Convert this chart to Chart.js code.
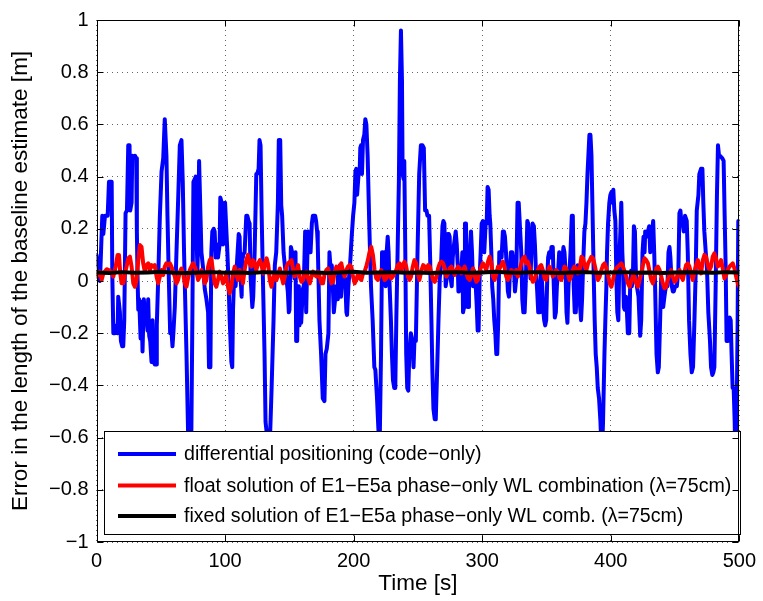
<!DOCTYPE html>
<html>
<head>
<meta charset="utf-8">
<script src="https://cdn.jsdelivr.net/npm/chart.js@4/dist/chart.umd.min.js"></script>
<style>
html,body{margin:0;padding:0;background:#fff;}
#wrap{width:763px;height:601px;}
</style>
</head>
<body>
<div id="wrap"><canvas id="c" width="763" height="601"></canvas></div>
<script>
// ---- data: [time s, error m] ----
const seriesNames = [
  'differential positioning (code\u2212only)',
  'float solution of E1\u2212E5a phase\u2212only WL combination (\u03bb=75cm)',
  'fixed solution of E1\u2212E5a phase\u2212only WL comb. (\u03bb=75cm)'
];
const xTickValues = [0, 100, 200, 300, 400, 500];
const xTickLabels = ['0', '100', '200', '300', '400', '500'];
const yTickValues = [-1, -0.8, -0.6, -0.4, -0.2, 0, 0.2, 0.4, 0.6, 0.8, 1];
const yTickLabels = ['\u22121', '\u22120.8', '\u22120.6', '\u22120.4', '\u22120.2', '0', '0.2', '0.4', '0.6', '0.8', '1'];

const codeOnly = [
[0,0.10],[1.5,0.05],[2.7,0.0],[3.5,0.11],[4.5,0.25],[5.3,0.18],[6.6,0.25],[8.7,0.25],[9.7,0.38],[11.8,0.38],
[12.3,0.02],[13.1,-0.20],[14.4,-0.20],[15.6,-0.17],[16.4,-0.20],[16.9,-0.06],[18.2,-0.12],[19,-0.23],[20,-0.25],[20.8,-0.25],
[21.6,-0.15],[22.6,0.26],[23.7,0.27],[24.7,0.52],[25.7,0.52],[26.2,0.27],[27.3,0.30],[27.8,0.48],[28.8,0.47],[29.9,0.48],
[30.9,0.47],[31.4,0.19],[31.9,0.02],[32.5,-0.11],[33.2,-0.07],[34.3,-0.22],[35,-0.08],[35.8,-0.27],[36.8,-0.07],[37.6,-0.12],
[38.4,-0.11],[39.7,-0.19],[40.2,-0.07],[41,-0.21],[41.8,-0.23],[42.8,-0.31],[43.6,-0.15],[44.4,-0.31],[45.4,-0.32],[46.4,-0.32],
[46.9,-0.17],[48,0.01],[49.3,0.25],[50.6,0.42],[51.9,0.47],[53.1,0.62],[54.4,0.48],[55.2,0.25],[56.2,0.02],[57.3,-0.20],
[58.3,-0.19],[59.1,-0.25],[59.9,-0.19],[60.9,-0.10],[62.2,0.11],[63.5,0.31],[64.8,0.52],[66.1,0.54],[67.1,0.38],[68.1,0.11],
[70,-0.28],[71.2,-0.57],[72.5,-0.75],[73.8,-0.57],[74.6,-0.12],[75.4,0.38],[76.4,0.39],[77.2,0.40],[78,0.14],[78.5,0.04],
[79,0.14],[79.8,0.46],
[80.3,0.46],[81.6,0.11],[82.9,0.05],[84.2,-0.03],[85.5,-0.07],[86.8,-0.12],[87.5,-0.33],[88.6,-0.33],[89.3,0.11],[90.1,0.19],
[91.2,0.20],[91.9,0.19],[92.7,0.09],[93.7,0.14],[94.5,0.09],[95.8,0.14],[96.3,0.32],[97.4,0.30],[98.4,0.14],[99.2,0.18],
[100,0.30],[100.7,0.30],[101.8,0.11],[102.8,-0.02],[103.6,-0.15],[104.9,-0.31],[105.6,-0.33],[106.2,-0.11],[107.2,0.04],[108.2,-0.02],
[109.5,0.09],[110.6,0.18],[111.3,0.17],[112.1,0.01],[112.9,-0.06],[113.4,0.09],[113.9,0.10],[115.2,0.11],[116.5,0.25],[117.3,0.25],
[118.3,0.23],[119.1,0.22],[119.9,0.01],[121.2,-0.10],[121.9,-0.06],[123,0.11],[124.3,0.41],[125,0.41],[126.1,0.43],[126.8,0.54],
[127.6,0.52],[128.4,0.27],[129.4,0.02],[130.7,-0.28],[131.5,-0.54],[132.8,-0.60],[133.8,-0.63],[135.1,-0.58],[136.2,-0.41],[137.7,-0.15],
[138.7,0.06],[139.8,0.11],[141.1,0.30],[141.8,0.54],[142.9,0.54],[143.7,0.29],[144.4,0.25],[145.5,0.11],[146.5,0.06],[147.5,0.02],
[148.8,-0.04],[149.6,-0.12],[150.1,-0.11],[151.2,0.13],[152.2,0.11],[153.2,0.10],[154,0.01],[154.8,0.11],[155.3,-0.23],[156.1,-0.23],
[156.8,-0.02],[157.4,-0.04],[157.9,-0.17],[158.7,-0.10],[159.2,-0.16],[160.5,-0.03],[161.2,-0.02],[162.3,0.19],
[163.1,-0.12],[164.4,0.19],[165.7,0.17],[166.5,0.11],[167.5,0.22],[168.3,0.25],[169,0.25],[170.1,0.25],[170.8,0.23],[171.6,0.19],
[172.1,0.14],[173.4,-0.15],[174.7,-0.28],[176,-0.45],[177.3,-0.46],[178.1,-0.28],[179.1,-0.26],[180.4,-0.20],[181.2,0.11],[182,0.05],
[182.5,0.05],[183,0.06],[183.8,-0.02],[184.6,-0.12],[185.6,-0.07],[186.4,-0.02],[187.1,-0.07],[187.7,0.01],[188.4,0.04],[189.2,0.06],
[190.2,-0.06],[191.3,0.04],[192.3,-0.02],[193.4,0.01],[194.4,-0.12],[194.9,-0.13],[195.9,-0.02],[197.2,0.06],[198.5,0.17],[199.6,0.25],
[200.6,0.30],[201.4,0.42],[202.1,0.43],[202.7,0.33],[203.2,0.33],[204,0.42],[204.7,0.42],[205.2,0.51],[205.8,0.52],[206.5,0.41],
[207.3,0.54],[208.3,0.56],[209.1,0.62],[209.9,0.60],[210.9,0.48],[212.2,0.21],[213.5,-0.02],[214.8,-0.15],[216.1,-0.33],[216.9,-0.34],
[218.2,-0.45],[219.2,-0.56],[220.2,-0.65],[221.3,-0.28],[222.1,0.11],[222.8,0.09],[223.9,0.11],[224.9,-0.02],[225.7,0.11],[226.5,0.17],
[227.2,0.11],[228,-0.02],[229,-0.15],[229.8,-0.28],[230.6,-0.38],[231.6,-0.41],[232.4,-0.41],[233.2,-0.15],[234.2,0.11],[235.2,0.38],
[236,0.77],[236.8,0.96],[237.6,0.77],[238.1,0.41],[238.9,0.39],[239.4,0.46],[240.2,0.11],[240.9,-0.28],[241.7,-0.41],[242.5,-0.42],
[243.3,-0.28],
[244.5,-0.20],[245.8,-0.23],[246.6,-0.33],[247.3,-0.23],[248.4,-0.23],[249.7,0.11],[251,0.41],[252.3,0.52],[253.5,0.52],[254.6,0.51],
[255.6,0.27],[256.7,0.27],[257.4,0.25],[258.7,0.25],[259.5,0.09],[260.5,-0.15],[261.3,-0.35],[262.1,-0.49],[263.1,-0.53],[263.9,-0.53],
[264.9,-0.35],[266,-0.15],[267,0.01],[268,0.06],[269.1,0.21],[269.8,0.23],[270.6,0.22],[271.6,-0.02],[272.4,0.01],[273.2,0.18],
[274,0.18],[274.7,0.17],[275.5,0.01],[276.3,-0.02],[277.1,0.09],[278.1,0.14],[279.4,0.19],[280.2,0.14],[281,0.06],[281.5,-0.04],
[282,-0.04],[282.8,-0.02],[283.8,0.04],[284.6,0.11],[285.1,-0.12],[285.9,-0.10],[286.6,0.22],[287.4,0.22],[288.2,-0.04],[289,-0.10],
[289.7,-0.04],[290.5,0.11],[291.3,0.19],[292.1,0.11],[292.9,-0.02],[293.6,0.04],[294.7,0.01],[295.7,-0.09],[296.5,-0.19],[297.2,-0.19],
[298,0.01],[298.8,0.11],[299.6,0.22],[300.6,0.23],[301.6,0.11],[302.7,0.22],[303.5,0.22],[304.2,0.36],[305,0.35],[305.8,0.25],
[306.3,0.22],[307.1,0.11],[307.8,-0.02],[308.6,-0.07],[309.4,-0.15],[310.2,-0.20],[311,-0.28],[311.7,-0.28],[312.5,-0.15],[313.3,0.11],
[314.1,0.11],[315.1,0.09],[316.1,0.19],[316.9,0.19],[317.7,0.17],[318.5,0.11],[319.2,0.04],[320,-0.04],[320.8,-0.06],[321.6,0.04],
[322.3,0.11],[323.4,0.11],[324.7,0.05],
[325.5,-0.04],[326.5,0.01],[327.5,0.30],[328.4,0.30],[330.4,0.11],[331.2,-0.07],[332,-0.12],[333,-0.12],[333.8,-0.02],[334.5,0.11],
[335.1,0.23],[335.8,0.22],[336.6,0.11],[337.6,0.01],[338.4,0.14],[339.2,0.22],[340.2,0.21],[341,0.14],[341.8,0.04],[342.8,-0.04],
[343.6,-0.12],[344.4,-0.12],[344.9,-0.04],[345.9,0.04],[346.7,-0.02],[347.5,-0.11],[348.2,-0.15],[349,-0.17],[349.8,-0.15],[350.6,0.01],
[351.3,0.09],[352.1,0.11],[353.1,0.09],[353.9,0.13],[354.9,0.13],[355.7,-0.02],[356.5,-0.14],[357.3,-0.12],[358.1,-0.02],[359.1,0.04],
[359.9,0.11],[360.6,0.10],[361.7,0.01],[362.5,0.09],[363.2,0.13],[364,0.11],[364.8,0.04],[365.6,-0.12],[366.3,-0.16],[367.1,-0.02],
[367.9,0.04],[368.7,0.11],[369.7,0.25],[370.5,0.25],[371.2,-0.02],[372,-0.12],[372.8,-0.12],[373.6,-0.02],[374.3,0.06],[375.4,0.01],
[376.2,-0.10],[376.9,-0.15],[377.7,-0.07],[378.5,0.06],[379.5,0.19],[380.3,0.22],[381.1,0.30],[381.9,0.41],[382.6,0.48],[383.4,0.56],
[384.2,0.56],[385,0.48],[385.7,0.30],[386.8,0.01],[387.5,-0.15],[388.3,-0.28],[389.1,-0.33],[389.9,-0.41],[390.9,-0.45],[392,-0.54],
[393,-0.68],[394,-0.54],[395.1,-0.28],[395.8,-0.15],[396.6,-0.02],[397.1,0.11],[397.9,0.22],[398.9,0.30],[399.7,0.33],[400.5,0.34],
[401.2,0.30],[402,0.35],[402.8,0.27],[403.6,0.23],[404.4,0.01],[405.1,-0.12],[405.9,-0.15],[406.7,0.09],[407.5,0.19],[408.2,0.30],
[409,0.11],[409.6,0.04],[410.2,-0.10],
[410.8,-0.11],[411.8,-0.06],[412.6,-0.12],[413.3,-0.20],[414.4,-0.20],[415.1,-0.02],[415.9,0.04],[416.4,-0.02],[417.2,0.01],[418,0.21],
[418.8,0.19],[419.5,0.04],[420.3,-0.02],[421.6,-0.06],[422.9,-0.21],[423.7,-0.15],[424.7,0.11],[425.5,0.17],[426.3,0.11],[426.8,0.19],
[427.8,0.17],[428.9,0.19],[429.9,0.21],[430.7,0.11],[432,0.18],[433,0.23],[433.8,0.11],[434.5,-0.02],[435.6,-0.28],[436.6,-0.35],
[437.4,-0.33],[438.4,-0.15],[439.2,0.01],[440,-0.02],[440.8,-0.10],[441.5,-0.07],[442.3,-0.04],[443.1,-0.02],[444.1,-0.02],[444.9,0.11],
[445.7,0.13],[446.4,0.09],[447.5,-0.02],[448.3,-0.04],[449,-0.04],[450.1,-0.02],[451.4,-0.02],[452.6,0.04],[453.4,0.26],[454.2,0.27],
[455,0.22],[456,0.22],[456.8,0.19],[457.8,0.25],[459.1,0.23],[459.9,0.11],[460.9,-0.15],[462,-0.28],[463,-0.35],[464,-0.33],
[465.1,-0.15],[466.1,0.04],[466.9,0.27],[468.2,0.33],[468.9,0.41],[470.2,0.43],[471.3,0.43],[472,0.30],[472.8,0.19],[473.9,0.11],
[474.9,0.04],[475.9,-0.12],[477.2,-0.23],[478,-0.33],[479,-0.36],[479.8,-0.35],[480.6,-0.33],[481.6,-0.02],[482.6,0.33],[483.4,0.52],
[484.2,0.48],[485,0.48],[485.7,0.48],[486.8,0.47],[487.8,0.46],[488.6,0.25],[489.4,0.05],[490.1,-0.23],[490.9,-0.23],[491.7,-0.15],
[492.5,-0.14],[493.3,-0.15],[494,-0.28],[494.8,-0.41],[495.6,-0.41],[496.4,-0.54],[497.1,-0.75],[497.9,-0.54],[498.7,-0.15],[499.2,0.23],
[500,0.23]
];

const floatWL = [
[0,0.017],[2.7,0.036],[4,0.004],[5.3,0.029],[7.9,0.045],[9.7,0.042],[11.2,0.036],[13.1,0.017],[14.9,0.055],[16.4,0.10],
[17.5,0.10],[18.5,0.029],[19.5,-0.009],[20.8,-0.009],[22.1,0.029],[23.4,0.055],[24.7,0.087],[26,0.093],[27.3,0.055],[28.6,-0.009],
[29.9,-0.022],[31.2,0.004],[32.5,0.08],[33.7,0.138],[35,0.131],[36.3,0.068],[37.6,0.036],[38.9,0.061],[40.2,0.068],[41.5,0.042],
[42.8,0.061],[44.1,0.055],[45.4,0.061],[46.7,0.017],[48,-0.009],[49.3,0.017],[50.6,0.042],[51.9,0.023],[53.1,0.055],[54.4,0.068],
[55.7,0.061],[57,0.068],[58.3,0.055],[59.6,0.036],[60.9,0.017],[62.2,-0.009],[63.5,0.004],[64.8,0.036],[66.1,0.048],[67.4,0.029],
[68.7,-0.009],[70,-0.022],[71.2,0.01],[72.5,0.042],[73.8,0.055],[75.1,0.068],[76.4,0.055],[77.7,0.036],[79,0.004],[80.3,0.017],
[81.6,0.042],[82.9,0.029],[84.2,-0.009],[85.5,0.004],[86.8,0.055],[88.1,0.08],[89.3,0.087],[90.6,0.036],[91.9,-0.009],[93.2,-0.022],
[94.5,0.004],[95.8,0.036],[97.1,0.017],[98.4,-0.009],[99.7,0.004],[101,0.029],[102.3,-0.022],[103.6,-0.047],[104.9,-0.022],[106.2,0.029],
[107.5,0.055],[108.7,0.029],[110,0.004],[111.3,0.042],[112.6,0.029],[113.9,-0.009],[115.2,0.042],[116.5,0.08],[117.8,0.10],[119.1,0.068],
[120.4,0.055],[121.7,0.08],[123,0.068],[124.3,0.042],[125.8,0.068],[127.1,0.08],[128.4,0.061],[129.7,0.029],[131,0.068],[132.3,0.087],
[133.6,0.061],[134.8,0.004],[136.1,-0.022],[137.4,0.01],[138.7,0.029],[140,0.004],[141.3,0.023],[142.6,0.048],[143.9,0.017],[145.2,-0.009],
[146.5,0.017],[147.8,0.055],[149.1,0.068],[150.4,0.074],[151.7,0.08],[153,0.042],[154.2,0.017],[155.5,0.036],[156.8,0.061],[158.1,0.017],
[159.4,-0.003],[160.7,0.004],[162,0.029],[163.3,0.036],[164.6,0.01],[165.9,-0.009],[167.2,0.017],[168.5,0.036],[169.8,0.023],[171.1,0.017],
[172.3,0.036],[173.6,0.017],[174.9,-0.009],[176.2,-0.009],[177.5,0.029],[178.8,0.042],[180.1,0.048],[181.4,0.023],[182.7,-0.009],[184,-0.003],
[185.3,0.036],[186.6,0.055],[187.9,0.036],[189.2,0.055],[190.4,0.068],[191.7,0.036],[193,0.017],[194.3,0.042],[195.6,0.055],[196.9,0.061],
[198.2,0.055],[199.5,0.017],[200.8,-0.009],[202.1,0.004],[203.4,0.029],[204.7,0.01],[206,0.004],[207.3,0.029],[208.5,0.036],[209.8,0.055],
[211.1,0.08],[212.4,0.112],[213.7,0.131],[215,0.10],[216.3,0.042],[217.6,0.01],[218.9,0.004],[220.2,0.023],[221.5,0.042],[222.8,0.029],
[224.1,0.004],[225.4,0.01],[226.6,0.029],[227.9,0.023],[229.2,0.01],[230.5,0.017],[231.8,0.029],[233.1,0.042],[234.4,0.061],[235.7,0.068],
[237,0.036],[238.3,0.061],[239.6,0.074],[240.9,0.055],[242.2,0.017],[243.5,0.004],[244.7,0.017],[246,0.055],[247.3,0.08],[248.6,0.068],
[249.9,0.029],[251.2,0.004],[252.8,0.042],[254.1,0.061],[255.4,0.055],[256.7,0.036],[258,0.061],[259.3,0.055],[260.5,0.029],[261.8,0.004],
[263.1,-0.003],[264.4,0.017],[265.7,0.048],[267,0.068],[268.3,0.074],[269.6,0.068],[270.9,0.048],[272.2,0.017],[273.5,0.029],[274.8,0.048],
[276.1,0.055],[277.4,0.036],[278.6,0.023],[279.9,0.042],[281.2,0.055],[282.5,0.048],[283.8,0.029],[285.1,0.042],[286.4,0.055],[287.7,0.029],
[289,0.01],[290.3,0.004],[291.6,0.029],[292.9,0.048],[294.2,0.017],[295.5,-0.003],[296.7,0.004],[298,0.036],[299.3,0.055],[300.6,0.068],
[301.9,0.055],[303.2,0.042],[304.5,0.074],[305.8,0.093],[307.1,0.068],[308.4,0.017],[309.7,0.004],[311,0.029],[312.3,0.055],[313.6,0.048],
[314.9,0.061],[316.1,0.074],[317.4,0.055],[318.7,0.017],[320,0.004],[321.3,0.017],[322.6,0.042],[323.9,0.036],[325.2,0.029],[326.5,0.042],
[327.8,0.017],[329.1,0.042],[330.4,0.068],[331.7,0.087],[333,0.093],[334.2,0.068],[335.5,0.074],[336.8,0.055],[338.1,0.017],[339.4,-0.003],
[340.7,0.004],[342,0.029],[343.3,0.042],[344.6,0.055],[345.9,0.061],[347.2,0.042],[348.5,0.01],[349.8,0.004],[351.1,0.036],[352.3,0.055],
[353.6,0.042],[354.9,0.017],[356.2,0.029],[357.5,0.042],[358.8,0.036],[360.1,0.01],[361.4,0.004],[362.7,0.029],[364,0.055],[365.3,0.048],
[366.6,0.029],[367.9,0.004],[369.2,0.017],[370.4,0.042],[371.7,0.055],[373,0.048],[374.3,0.029],[375.6,0.036],[377.2,0.093],[378.5,0.087],
[379.8,0.055],[381.1,0.042],[382.4,0.068],[383.7,0.08],[385,0.093],[386.2,0.087],[387.5,0.061],[388.8,0.029],[390.1,0.004],[391.4,0.017],
[392.7,0.042],[394,0.061],[395.3,0.068],[396.6,0.048],[397.9,0.023],[399.2,-0.009],[400.5,-0.022],[401.8,0.004],[403.1,0.036],[404.3,0.048],
[405.6,0.055],[406.9,0.061],[408.2,0.068],[409.5,0.055],[410.8,0.036],[412.1,0.017],[413.4,-0.009],[414.7,-0.022],[416,-0.003],[417.3,0.023],
[418.6,0.017],[419.9,-0.009],[421.2,-0.022],[422.4,0.004],[423.7,0.029],[425,0.061],[426.3,0.087],[427.6,0.08],[428.9,0.068],[430.2,0.036],
[431.5,0.004],[432.8,-0.009],[434.1,0.017],[435.4,0.048],[436.7,0.055],[438,0.042],[439.3,0.017],[440.5,-0.009],[441.8,-0.028],[443.1,-0.022],
[444.4,0.004],[445.7,0.029],[447,0.042],[448.3,0.017],[449.6,-0.003],[450.9,0.004],[452.2,0.029],[453.5,0.042],[454.8,0.017],[456.1,0.004],
[457.4,0.036],[458.6,0.061],[459.9,0.068],[461.2,0.055],[462.5,0.029],[463.8,0.004],[465.1,0.036],[466.4,0.061],[467.7,0.08],[469,0.055],
[470.3,0.029],[471.6,0.08],[472.9,0.10],[474.2,0.093],[475.5,0.061],[476.7,0.042],[478,0.055],[479.3,0.093],[480.6,0.106],[481.9,0.087],
[483.2,0.055],[484.5,0.061],[485.8,0.08],[487.1,0.048],[488.4,0.01],[489.7,0.023],[491,0.042],[492.3,0.055],[493.6,0.061],[494.9,0.068],
[496.2,0.048],[497.5,0.017],[498.8,-0.009],[500,-0.022]
];

const fixedWL = [
[0,0.033],[10,0.031],[20,0.034],[30,0.032],[40,0.033],[50,0.035],[60,0.032],[70,0.031],[80,0.033],[90,0.034],
[100,0.032],[110,0.033],[120,0.031],[130,0.034],[140,0.033],[150,0.032],[160,0.034],[170,0.033],[180,0.031],[190,0.033],
[200,0.035],[210,0.032],[220,0.033],[230,0.034],[240,0.032],[250,0.033],[260,0.031],[270,0.033],[280,0.034],[290,0.032],
[300,0.033],[310,0.035],[320,0.033],[330,0.032],[340,0.034],[350,0.033],[360,0.031],[370,0.033],[380,0.034],[390,0.032],
[400,0.033],[410,0.034],[420,0.032],[430,0.033],[440,0.031],[450,0.033],[460,0.034],[470,0.033],[480,0.032],[490,0.034],
[500,0.033]
];

const seriesColors = ['#0000ff', '#ff0000', '#000000'];
const FONT = '"Liberation Sans", Arial, Helvetica, sans-serif';

const toXY = arr => arr.map(p => ({x: p[0], y: p[1]}));

const framePlugin = {
  id: 'matlabFrame',
  beforeDraw(chart) {
    const ctx = chart.ctx;
    ctx.save();
    ctx.fillStyle = '#ffffff';
    ctx.fillRect(0, 0, chart.width, chart.height);
    ctx.restore();
  },
  afterDatasetsDraw(chart) {
    const {ctx, chartArea: a, scales: {x, y}} = chart;
    ctx.save();
    // legend box inside plot
    const L = {left: 104.5, top: 431.5, right: 740.5, bottom: 534.5};
    ctx.fillStyle = '#ffffff';
    ctx.fillRect(L.left, L.top, L.right - L.left, L.bottom - L.top);
    ctx.strokeStyle = '#000';
    ctx.lineWidth = 1;
    ctx.strokeRect(L.left, L.top, L.right - L.left, L.bottom - L.top);
    const rows = [454, 485.5, 516];
    ctx.font = '19.6px ' + FONT;
    ctx.textBaseline = 'middle';
    ctx.textAlign = 'left';
    for (let i = 0; i < 3; i++) {
      ctx.strokeStyle = seriesColors[i];
      ctx.lineWidth = 4;
      ctx.beginPath();
      ctx.moveTo(118, rows[i]);
      ctx.lineTo(176, rows[i]);
      ctx.stroke();
      ctx.fillStyle = '#000';
      ctx.fillText(seriesNames[i], 184, rows[i] + 1);
    }
    // axes box
    ctx.strokeStyle = '#000';
    ctx.lineWidth = 1;
    const l = Math.round(a.left) + 0.5, r = Math.round(a.right) - 0.5;
    const t = Math.round(a.top) + 0.5, b = Math.round(a.bottom) - 0.5;
    ctx.strokeRect(l, t, r - l, b - t);
    // inward ticks on all four sides
    const tl = 6;
    ctx.beginPath();
    xTickValues.forEach(v => {
      const px = Math.round(x.getPixelForValue(v)) + 0.5;
      ctx.moveTo(px, b); ctx.lineTo(px, b - tl);
      ctx.moveTo(px, t); ctx.lineTo(px, t + tl);
    });
    yTickValues.forEach(v => {
      const py = Math.round(y.getPixelForValue(v)) + 0.5;
      ctx.moveTo(l, py); ctx.lineTo(l + tl, py);
      ctx.moveTo(r, py); ctx.lineTo(r - tl, py);
    });
    ctx.stroke();
    ctx.restore();
  }
};

const lineDs = (label, data, color, order) => ({
  label, data: toXY(data), borderColor: color, backgroundColor: color,
  borderWidth: 4, pointRadius: 0, tension: 0, fill: false,
  borderJoinStyle: 'round', borderCapStyle: 'round', order
});

new Chart(document.getElementById('c'), {
  type: 'line',
  data: {
    datasets: [
      lineDs(seriesNames[0], codeOnly, seriesColors[0], 3),
      lineDs(seriesNames[1], floatWL, seriesColors[1], 2),
      lineDs(seriesNames[2], fixedWL, seriesColors[2], 1)
    ]
  },
  options: {
    responsive: false,
    devicePixelRatio: 1,
    animation: false,
    layout: {padding: {top: 19, right: 19, left: 0, bottom: 0}},
    plugins: {legend: {display: false}, tooltip: {enabled: false}},
    scales: {
      x: {
        type: 'linear', min: 0, max: 500,
        afterBuildTicks: s => { s.ticks = xTickValues.map(v => ({value: v})); },
        afterFit: s => { s.height = 59; },
        ticks: {
          callback: (v, i) => xTickLabels[i],
          color: '#000', padding: 7, maxRotation: 0, autoSkip: false,
          font: {family: FONT, size: 20}
        },
        grid: {color: 'rgba(0,0,0,0.6)', lineWidth: 1, drawTicks: false},
        border: {display: false, dash: [1, 4]},
        title: {display: true, text: 'Time [s]', color: '#000',
                font: {family: FONT, size: 22.5}, padding: {top: 0, bottom: 4}}
      },
      y: {
        type: 'linear', min: -1, max: 1,
        afterBuildTicks: s => { s.ticks = yTickValues.map(v => ({value: v})); },
        afterFit: s => { s.width = 96.5; },
        ticks: {
          callback: (v, i) => yTickLabels[i],
          color: '#000', padding: 8, autoSkip: false,
          font: {family: FONT, size: 20}
        },
        grid: {color: 'rgba(0,0,0,0.6)', lineWidth: 1, drawTicks: false},
        border: {display: false, dash: [1, 4]},
        title: {display: true, text: 'Error in the length of the baseline estimate [m]', color: '#000',
                font: {family: FONT, size: 22.5}, padding: {top: 7, bottom: 0}}
      }
    }
  },
  plugins: [framePlugin]
});
</script>
</body>
</html>
